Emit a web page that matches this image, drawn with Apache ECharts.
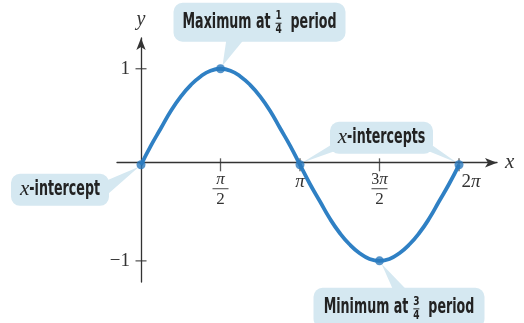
<!DOCTYPE html>
<html>
<head>
<meta charset="utf-8">
<script src="https://cdn.jsdelivr.net/npm/echarts@6/dist/echarts.min.js"></script>
<style>
  html, body { margin: 0; padding: 0; background: #fff; }
  #main { width: 524px; height: 323px; }
</style>
</head>
<body>
<div id="main"></div>
<script>
// x values are in units of pi, curve read every pi/16
const curveX = [0, 0.0625, 0.125, 0.1875, 0.25, 0.3125, 0.375, 0.4375, 0.5, 0.5625, 0.625, 0.6875, 0.75, 0.8125, 0.875, 0.9375,
  1, 1.0625, 1.125, 1.1875, 1.25, 1.3125, 1.375, 1.4375, 1.5, 1.5625, 1.625, 1.6875, 1.75, 1.8125, 1.875, 1.9375, 2];
const curveY = [0, 0.2, 0.38, 0.56, 0.71, 0.83, 0.92, 0.98, 1, 0.98, 0.92, 0.83, 0.71, 0.56, 0.38, 0.2,
  0, -0.2, -0.38, -0.56, -0.71, -0.83, -0.92, -0.98, -1, -0.98, -0.92, -0.83, -0.71, -0.56, -0.38, -0.2, 0];
const keyX = [0, 0.5, 1, 1.5, 2];
const keyY = [0, 1, 0, -1, 0];
const xTickVals = [0.5, 1, 1.5, 2];
const xTickLabels = ["{p|π}\n{bar| }\n{d|2}", "{s|π}", "{n|3}{p|π}\n{bar| }\n{d|2}", "{w|2}{s|π}"];
const yTickVals = [-1, 1];
const yTickLabels = ["−1", "1"];

const AXIS = "#333";
const BLUE = "#2f80c4";
const BOX = "#d5e8f1";
const SERIF = "'Liberation Serif', 'DejaVu Serif', serif";
const COND = "'DejaVu Sans Condensed', 'DejaVu Sans', sans-serif";
const GRID = { left: 117, right: 27, top: 38, bottom: 41 };

let chart = echarts.init(document.querySelector("#main"));
let option = {
  animation: false,
  grid: GRID,
  xAxis: {
    type: "value",
    min: -0.151,
    max: 2.239,
    name: "x",
    nameGap: 8,
    nameTextStyle: { fontFamily: SERIF, fontStyle: "italic", fontSize: 21, color: "#333", padding: [0, 0, 2, 0] },
    axisLine: { onZero: false, symbol: ["none", "arrow"], symbolSize: [7, 12], lineStyle: { color: AXIS, width: 1.3 } },
    axisTick: { show: false },
    splitLine: { show: false },
    axisLabel: {
      customValues: xTickVals,
      margin: 10,
      formatter: (v) => xTickLabels[xTickVals.indexOf(v)],
      rich: {
        p: { fontFamily: SERIF, fontStyle: "italic", fontSize: 17, color: "#333", lineHeight: 14 },
        n: { fontFamily: SERIF, fontSize: 16, color: "#333", lineHeight: 14 },
        bar: { width: 16, height: 1, lineHeight: 4, fontSize: 1, backgroundColor: "#444" },
        d: { fontFamily: SERIF, fontSize: 17, color: "#333", lineHeight: 17 },
        s: { fontFamily: SERIF, fontStyle: "italic", fontSize: 19, color: "#333", lineHeight: 18 },
        w: { fontFamily: SERIF, fontSize: 19, color: "#333", lineHeight: 18, padding: [0, 0, 0, 24] },
      },
    },
  },
  yAxis: {
    type: "value",
    min: -1.22,
    max: 1.32,
    name: "y",
    nameGap: 8,
    nameTextStyle: { fontFamily: SERIF, fontStyle: "italic", fontSize: 20, color: "#333" },
    axisLine: { onZero: false, symbol: ["none", "arrow"], symbolSize: [7, 12], lineStyle: { color: AXIS, width: 1.3 } },
    axisTick: { show: false },
    splitLine: { show: false },
    axisLabel: {
      customValues: yTickVals,
      margin: 11,
      fontFamily: SERIF,
      fontSize: 19,
      color: "#333",
      formatter: (v) => yTickLabels[yTickVals.indexOf(v)],
    },
  },
  series: [
    {
      type: "scatter",
      silent: true,
      symbol: "rect",
      symbolSize: [1.3, 13],
      itemStyle: { color: AXIS },
      data: xTickVals.map((x) => [x, 0]),
      z: 1,
    },
    {
      type: "scatter",
      silent: true,
      symbol: "rect",
      symbolSize: [11, 1.3],
      itemStyle: { color: AXIS },
      data: yTickVals.map((y) => [0, y]),
      z: 1,
    },
    {
      type: "line",
      smooth: true,
      showSymbol: false,
      lineStyle: { color: BLUE, width: 3.8 },
      data: curveX.map((x, i) => [x, curveY[i]]),
      z: 2,
    },
    {
      type: "scatter",
      symbolSize: 9,
      itemStyle: { color: "#2a79bd" },
      data: keyX.map((x, i) => [x, keyY[i]]),
      z: 3,
    },
  ],
};
chart.setOption(option);

// move both axes so they cross at the origin (labels follow the offset)
const origin = chart.convertToPixel({ gridIndex: 0 }, [0, 0]);
chart.setOption({
  xAxis: { offset: -(323 - GRID.bottom - origin[1]) },
  yAxis: { offset: -(origin[0] - GRID.left) },
});

// callout boxes, laid out relative to the data points they point to
const ctx = document.createElement("canvas").getContext("2d");
const LBL = "bold 21px " + COND;
const SQUEEZE = 0.67;
const XIT = "italic 21px " + SERIF;
const FR = "bold 10px " + COND;
function textWidth(t, font) { ctx.font = font; return ctx.measureText(t).width; }

function labelParts(parts, cx, cy) {
  let items = [];
  let total = 0;
  parts.forEach((p) => {
    if (p.frac) p.w = 8;
    else if (p.gap) p.w = p.gap;
    else p.w = textWidth(p.t, p.font) * (p.squeeze ? SQUEEZE : 1);
    total += p.w;
  });
  let x = cx - total / 2;
  parts.forEach((p) => {
    if (p.frac) {
      items.push({ type: "text", x: x + p.w / 2, y: cy - 6, scaleY: 1.15, style: { text: p.frac[0], font: FR, fill: "#222", align: "center", verticalAlign: "middle" } });
      items.push({ type: "line", shape: { x1: x + 1, y1: cy + 1, x2: x + p.w - 1, y2: cy + 1 }, style: { stroke: "#222", lineWidth: 1 } });
      items.push({ type: "text", x: x + p.w / 2, y: cy + 8, scaleY: 1.15, style: { text: p.frac[1], font: FR, fill: "#222", align: "center", verticalAlign: "middle" } });
    } else if (p.t) {
      items.push({ type: "text", x: x, y: cy, scaleX: p.squeeze ? SQUEEZE : 1, style: { text: p.t, font: p.font, fill: "#222", align: "left", verticalAlign: "middle" } });
    }
    x += p.w;
  });
  return items;
}

function callout(anchors, box, pointers, parts) {
  const a = chart.convertToPixel({ gridIndex: 0 }, anchors[0]);
  let children = [];
  pointers.forEach((pt) => {
    const b = chart.convertToPixel({ gridIndex: 0 }, anchors[pt.anchor]);
    children.push({
      type: "polygon",
      shape: { points: [[a[0] + pt.base[0][0], a[1] + pt.base[0][1]], [a[0] + pt.base[1][0], a[1] + pt.base[1][1]], [b[0] + pt.tip[0], b[1] + pt.tip[1]]] },
      style: { fill: BOX },
    });
  });
  const bx = a[0] + box[0], by = a[1] + box[1];
  children.push({ type: "rect", shape: { x: bx, y: by, width: box[2], height: box[3], r: 9 }, style: { fill: BOX } });
  children = children.concat(labelParts(parts, bx + box[2] / 2, by + box[3] / 2));
  return { type: "group", silent: true, z: 1, children: children };
}

chart.setOption({
  graphic: [
    callout([[0.5, 1]], [-47, -66, 172, 39],
      [{ anchor: 0, base: [[6, -30], [24, -30]], tip: [2, -3] }],
      [{ t: "Maximum at", font: LBL, squeeze: true }, { gap: 4 }, { frac: ["1", "4"] }, { gap: 8 }, { t: "period", font: LBL, squeeze: true }]),
    callout([[0, 0]], [-130, 9, 98, 32],
      [{ anchor: 0, base: [[-35, 16], [-35, 31]], tip: [-2, 2] }],
      [{ t: "x", font: XIT }, { t: "-intercept", font: LBL, squeeze: true }]),
    callout([[1, 0], [2, 0]], [30, -43, 103, 32],
      [{ anchor: 0, base: [[33, -21], [33, -13]], tip: [2, -2] },
       { anchor: 1, base: [[130, -21], [130, -13]], tip: [-2, -2] }],
      [{ t: "x", font: XIT }, { t: "-intercepts", font: LBL, squeeze: true }]),
    callout([[1.5, -1]], [-66, 27, 171, 40],
      [{ anchor: 0, base: [[14, 30], [28, 30]], tip: [2, 3] }],
      [{ t: "Minimum at", font: LBL, squeeze: true }, { gap: 4 }, { frac: ["3", "4"] }, { gap: 8 }, { t: "period", font: LBL, squeeze: true }]),
  ],
});

window.addEventListener("resize", () => {
  chart.resize();
});
</script>
</body>
</html>
